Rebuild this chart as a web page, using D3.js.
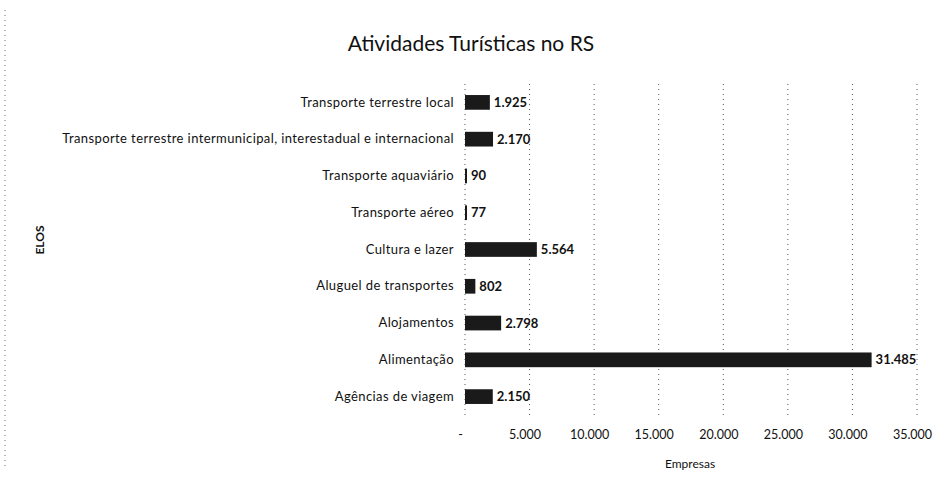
<!DOCTYPE html>
<html>
<head>
<meta charset="utf-8">
<script src="https://cdn.jsdelivr.net/npm/d3@7"></script>
<style>
  body { margin: 0; background: #fff; }
  svg text { font-family: Lato, "Open Sans", sans-serif; fill: #111; }
</style>
</head>
<body>
<div id="chart"></div>
<script>
const width = 942;
const height = 479;

// Data
const categories = [
    'Transporte terrestre local',
    'Transporte terrestre intermunicipal, interestadual e internacional',
    'Transporte aquaviário',
    'Transporte aéreo',
    'Cultura e lazer',
    'Aluguel de transportes',
    'Alojamentos',
    'Alimentação',
    'Agências de viagem'
];
const empresas = [1925, 2170, 90, 77, 5564, 802, 2798, 31485, 2150];
const xTicks = [0, 5000, 10000, 15000, 20000, 25000, 30000, 35000];

const data = categories.map((c, i) => ({ name: c, value: empresas[i] }));

// Brazilian number format
const locale = d3.formatLocale({ decimal: ',', thousands: '.', grouping: [3], currency: ['R$', ''] });
const fmt = locale.format(',d');

const margin = { top: 84, right: 25, bottom: 64, left: 465 };
const innerW = width - margin.left - margin.right;
const innerH = height - margin.top - margin.bottom;

const svg = d3.select('#chart')
    .append('svg')
    .attr('width', width)
    .attr('height', height);

// Chart border (left edge, dotted like the scan)
svg.append('line')
    .attr('x1', 5).attr('x2', 5)
    .attr('y1', 10).attr('y2', height - 10)
    .attr('stroke', '#666')
    .attr('stroke-dasharray', '1,4');

// Title
svg.append('text')
    .attr('x', 471)
    .attr('y', 51)
    .attr('text-anchor', 'middle')
    .style('font-size', '21px')
    .text('Atividades Turísticas no RS');

const g = svg.append('g')
    .attr('transform', `translate(${margin.left},${margin.top})`);

const x = d3.scaleLinear()
    .domain([0, 35000])
    .range([0, innerW]);

const y = d3.scaleBand()
    .domain(categories)
    .range([0, innerH])
    .paddingInner(0.6)
    .paddingOuter(0.3);

// Gridlines
g.selectAll('.grid')
    .data(xTicks)
    .enter().append('line')
    .attr('class', 'grid')
    .attr('x1', d => x(d)).attr('x2', d => x(d))
    .attr('y1', 0).attr('y2', innerH)
    .attr('stroke', '#555')
    .attr('stroke-dasharray', '1,4');

// X axis tick labels
const xAxis = d3.axisBottom(x)
    .tickValues(xTicks)
    .tickSize(0)
    .tickFormat(d => d === 0 ? '-' : fmt(d));

g.append('g')
    .attr('transform', `translate(-5,${innerH + 12})`)
    .call(xAxis)
    .call(sel => sel.select('.domain').remove())
    .selectAll('text')
    .style('font-size', '12.5px')
    .style('font-family', 'Lato, sans-serif');

// Y axis labels
const yAxis = d3.axisLeft(y).tickSize(0).tickPadding(11);
g.append('g')
    .call(yAxis)
    .call(sel => sel.select('.domain').remove())
    .selectAll('text')
    .style('font-size', '13px')
    .style('font-family', 'Lato, sans-serif')
    .style('letter-spacing', '0.4px');

// Bars
g.selectAll('.bar')
    .data(data)
    .enter().append('rect')
    .attr('class', 'bar')
    .attr('x', 0)
    .attr('y', d => y(d.name))
    .attr('width', d => Math.max(2, x(d.value)))
    .attr('height', y.bandwidth())
    .attr('fill', '#1a1a1a');

// Value labels
g.selectAll('.val')
    .data(data)
    .enter().append('text')
    .attr('class', 'val')
    .attr('x', d => Math.max(2, x(d.value)) + 4)
    .attr('y', d => y(d.name) + y.bandwidth() / 2)
    .attr('dy', '0.35em')
    .style('font-size', '13px')
    .style('font-weight', 'bold')
    .text(d => fmt(d.value));

// Axis titles
svg.append('text')
    .attr('x', 690)
    .attr('y', 468)
    .attr('text-anchor', 'middle')
    .style('font-size', '12px')
    .text('Empresas');

svg.append('text')
    .attr('transform', 'translate(44,240) rotate(-90)')
    .attr('text-anchor', 'middle')
    .style('font-size', '12px')
    .style('font-weight', 'bold')
    .text('ELOS');
</script>
</body>
</html>
